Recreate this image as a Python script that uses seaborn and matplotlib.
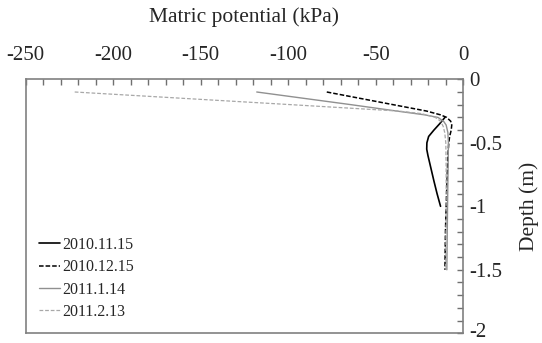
import matplotlib
matplotlib.use('Agg')
import numpy as np
import pandas as pd
import seaborn as sns
import matplotlib.pyplot as plt
import matplotlib.transforms as mtransforms
from matplotlib.ticker import MultipleLocator, FuncFormatter

# Soil matric potential profiles (kPa) against depth (m)
depth_1115 = [-0.30, -0.35, -0.40, -0.45, -0.50, -0.55, -0.60, -0.70, -0.80, -0.90, -1.00]
kpa_1115 = [-10.5, -13.5, -16.8, -19.8, -20.8, -20.9, -20.2, -18.5, -16.8, -15.0, -13.0]

depth_1215 = [-0.10, -0.15, -0.20, -0.25, -0.28, -0.30, -0.33, -0.36, -0.40, -0.45, -0.50, -0.60, -0.80, -1.00, -1.20, -1.50]
kpa_1215 = [-78, -59, -40, -21, -13, -9.5, -7.2, -6.6, -6.9, -7.8, -8.3, -8.8, -9.3, -9.8, -10.2, -10.5]

depth_0114 = [-0.10, -0.15, -0.20, -0.25, -0.28, -0.30, -0.33, -0.36, -0.42, -0.50, -0.70, -1.00, -1.50]
kpa_0114 = [-118, -91, -64, -38, -22, -14.5, -11.3, -9.8, -8.8, -8.5, -8.7, -9.0, -9.4]

depth_0213 = [-0.10, -0.15, -0.20, -0.25, -0.27, -0.30, -0.33, -0.37, -0.42, -0.50, -0.70, -1.00, -1.50]
kpa_0213 = [-222, -160, -98, -37, -24, -16, -13, -11.5, -10.6, -10.0, -9.8, -9.8, -10.0]

labels = ['2010.11.15', '2010.12.15', '2011.1.14', '2011.2.13']

sns.set_theme(style='white')
plt.rcParams['font.family'] = ['Liberation Serif', 'DejaVu Serif']
plt.rcParams['axes.unicode_minus'] = False

fig = plt.figure(figsize=(5.42, 3.43), dpi=100)
ax = fig.add_axes([0.0474, 0.0283, 0.8074, 0.7405])

series = [
    (kpa_1115, depth_1115, 'black', '-', 1.2),
    (kpa_1215, depth_1215, 'black', (0, (3, 1.3)), 1.1),
    (kpa_0114, depth_0114, '#909090', '-', 1.0),
    (kpa_0213, depth_0213, '#a8a8a8', (0, (3, 1.5)), 0.9),
]
for (xs, ys, col, ls, lw), lab in zip(series, labels):
    sns.lineplot(x=xs, y=ys, sort=False, estimator=None, ax=ax,
                 color=col, linestyle=ls, linewidth=lw, label=lab)

ax.set_xlim(-250, 0)
ax.set_ylim(-2, 0)
ax.xaxis.set_major_locator(MultipleLocator(50))
ax.xaxis.set_minor_locator(MultipleLocator(10))
ax.yaxis.set_major_locator(MultipleLocator(0.5))
ax.yaxis.set_minor_locator(MultipleLocator(0.1))
ax.yaxis.set_major_formatter(FuncFormatter(lambda v, p: '%g' % v))
ax.xaxis.set_major_formatter(FuncFormatter(lambda v, p: '%g' % v))

ax.xaxis.tick_top()
ax.yaxis.tick_right()
ax.xaxis.set_label_position('top')
ax.yaxis.set_label_position('right')
ax.tick_params(axis='x', which='both', direction='in', length=4, width=1,
               color='#707070', labelsize=15, pad=10.5, top=True, bottom=False)
ax.tick_params(axis='y', which='both', direction='in', length=4, width=1,
               color='#707070', labelsize=15, pad=4.5, right=True, left=False)

for sp in ax.spines.values():
    sp.set_color('#808080')
    sp.set_linewidth(1.2)

ax.set_xlabel('Matric potential (kPa)', fontsize=15.5, labelpad=17)
ax.set_ylabel('Depth (m)', fontsize=15.5, labelpad=12)

ax.legend(loc='upper left', bbox_to_anchor=(0.03, 0.38), frameon=False,
          fontsize=11.5, handlelength=1.35, handletextpad=0.1,
          labelspacing=0.4, borderaxespad=0, borderpad=0)

# nudge the bottom "-2" label up a little so it stays inside the canvas
fig.canvas.draw()
for tick in ax.yaxis.get_major_ticks():
    if abs(tick.get_loc() + 2) < 1e-9:
        lbl = tick.label2
        lbl.set_transform(lbl.get_transform() +
                          mtransforms.ScaledTranslation(0, 3 / 100, fig.dpi_scale_trans))

fig.savefig('out.png', dpi=100)
